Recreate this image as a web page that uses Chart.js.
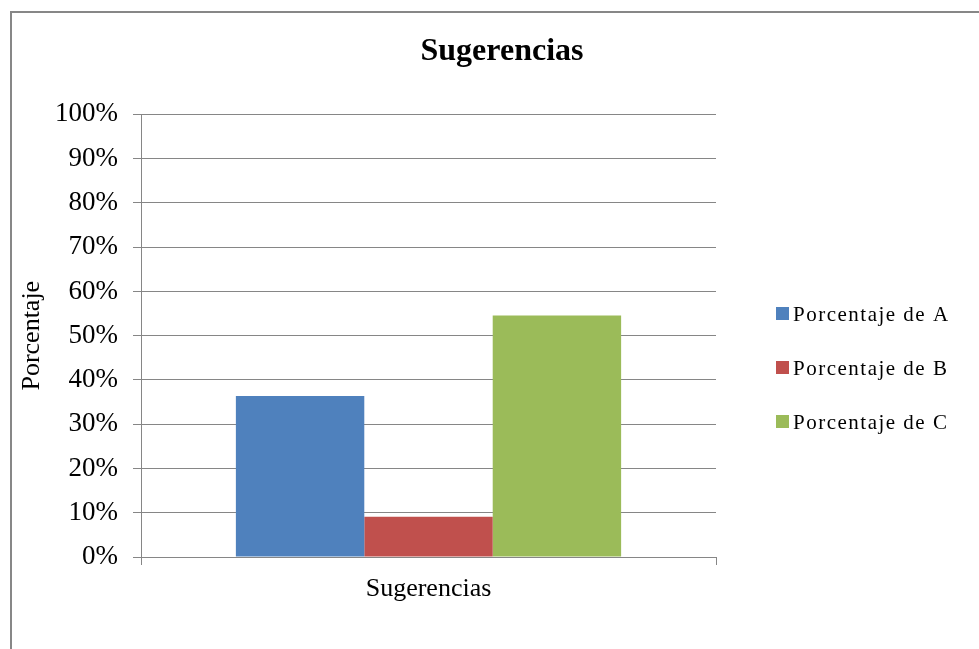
<!DOCTYPE html>
<html>
<head>
<meta charset="utf-8">
<script src="https://cdn.jsdelivr.net/npm/chart.js@4"></script>
<style>
  html, body { margin: 0; padding: 0; background: #fff; }
  #wrap { position: relative; width: 979px; height: 649px; overflow: hidden; }
  #frame { position: absolute; left: 10px; top: 11px; width: 1000px; height: 700px;
           border-left: 2px solid #878787; border-top: 2px solid #878787; }
  canvas { position: absolute; left: 0; top: 0; }
</style>
</head>
<body>
<div id="wrap">
  <div id="frame"></div>
  <canvas id="barChart" width="979" height="649"></canvas>
</div>
<script>
// Data
const categories = ['Sugerencias'];
const seriesNames = ['Porcentaje de A', 'Porcentaje de B', 'Porcentaje de C'];
const valuesA = [36.36];
const valuesB = [9.09];
const valuesC = [54.55];
const seriesColors = ['#4F81BD', '#C0504D', '#9BBB59'];

const serif = '"Liberation Serif", "Times New Roman", serif';

// legend drawn to the right of the plot, Excel style
const sideLegend = {
    id: 'sideLegend',
    afterDraw(chart) {
        const ctx = chart.ctx;
        ctx.save();
        ctx.font = '21px ' + serif;
        ctx.letterSpacing = '1.5px';
        ctx.textBaseline = 'alphabetic';
        ctx.textAlign = 'left';
        chart.data.datasets.forEach((ds, i) => {
            const y = 307 + i * 54;
            ctx.fillStyle = ds.backgroundColor;
            ctx.fillRect(776, y, 13, 13);
            ctx.fillStyle = '#000';
            ctx.fillText(ds.label, 793, y + 14);
        });
        ctx.restore();
    }
};

const ctx = document.getElementById('barChart').getContext('2d');
const barChart = new Chart(ctx, {
    type: 'bar',
    data: {
        labels: categories,
        datasets: [
            { label: seriesNames[0], data: valuesA, backgroundColor: seriesColors[0] },
            { label: seriesNames[1], data: valuesB, backgroundColor: seriesColors[1] },
            { label: seriesNames[2], data: valuesC, backgroundColor: seriesColors[2] }
        ]
    },
    options: {
        responsive: false,
        animation: false,
        layout: { padding: { left: 25, right: 0, top: 0, bottom: 0 } },
        datasets: {
            bar: { categoryPercentage: 0.67, barPercentage: 1.0 }
        },
        plugins: {
            legend: { display: false },
            tooltip: { enabled: false },
            title: {
                display: true,
                text: 'Sugerencias',
                color: '#000',
                font: { family: serif, size: 32, weight: 'bold' },
                padding: { top: 33, bottom: 43 }
            }
        },
        scales: {
            x: {
                offset: true,
                grid: { display: true, drawOnChartArea: false, offset: true, tickLength: 8, color: '#868686' },
                border: { color: '#868686' },
                ticks: { color: '#000', font: { family: serif, size: 26 }, padding: 9 },
                afterFit(scale) { scale.height = 92; }
            },
            y: {
                min: 0,
                max: 100,
                ticks: {
                    stepSize: 10,
                    color: '#000',
                    padding: 15,
                    font: { family: serif, size: 27 },
                    callback: v => v + '%'
                },
                grid: { color: '#868686', tickLength: 8 },
                border: { color: '#868686' },
                title: {
                    display: true,
                    text: 'Porcentaje',
                    color: '#000',
                    font: { family: serif, size: 26 },
                    padding: { top: -8, bottom: 0 }
                },
                afterFit(scale) { scale.width = 116; }
            },
            // empty axis that only reserves room for the legend
            yLegend: {
                type: 'linear',
                position: 'right',
                grid: { display: false },
                border: { display: false },
                ticks: { display: false },
                afterFit(scale) { scale.width = 263; }
            }
        }
    },
    plugins: [sideLegend]
});
</script>
</body>
</html>
